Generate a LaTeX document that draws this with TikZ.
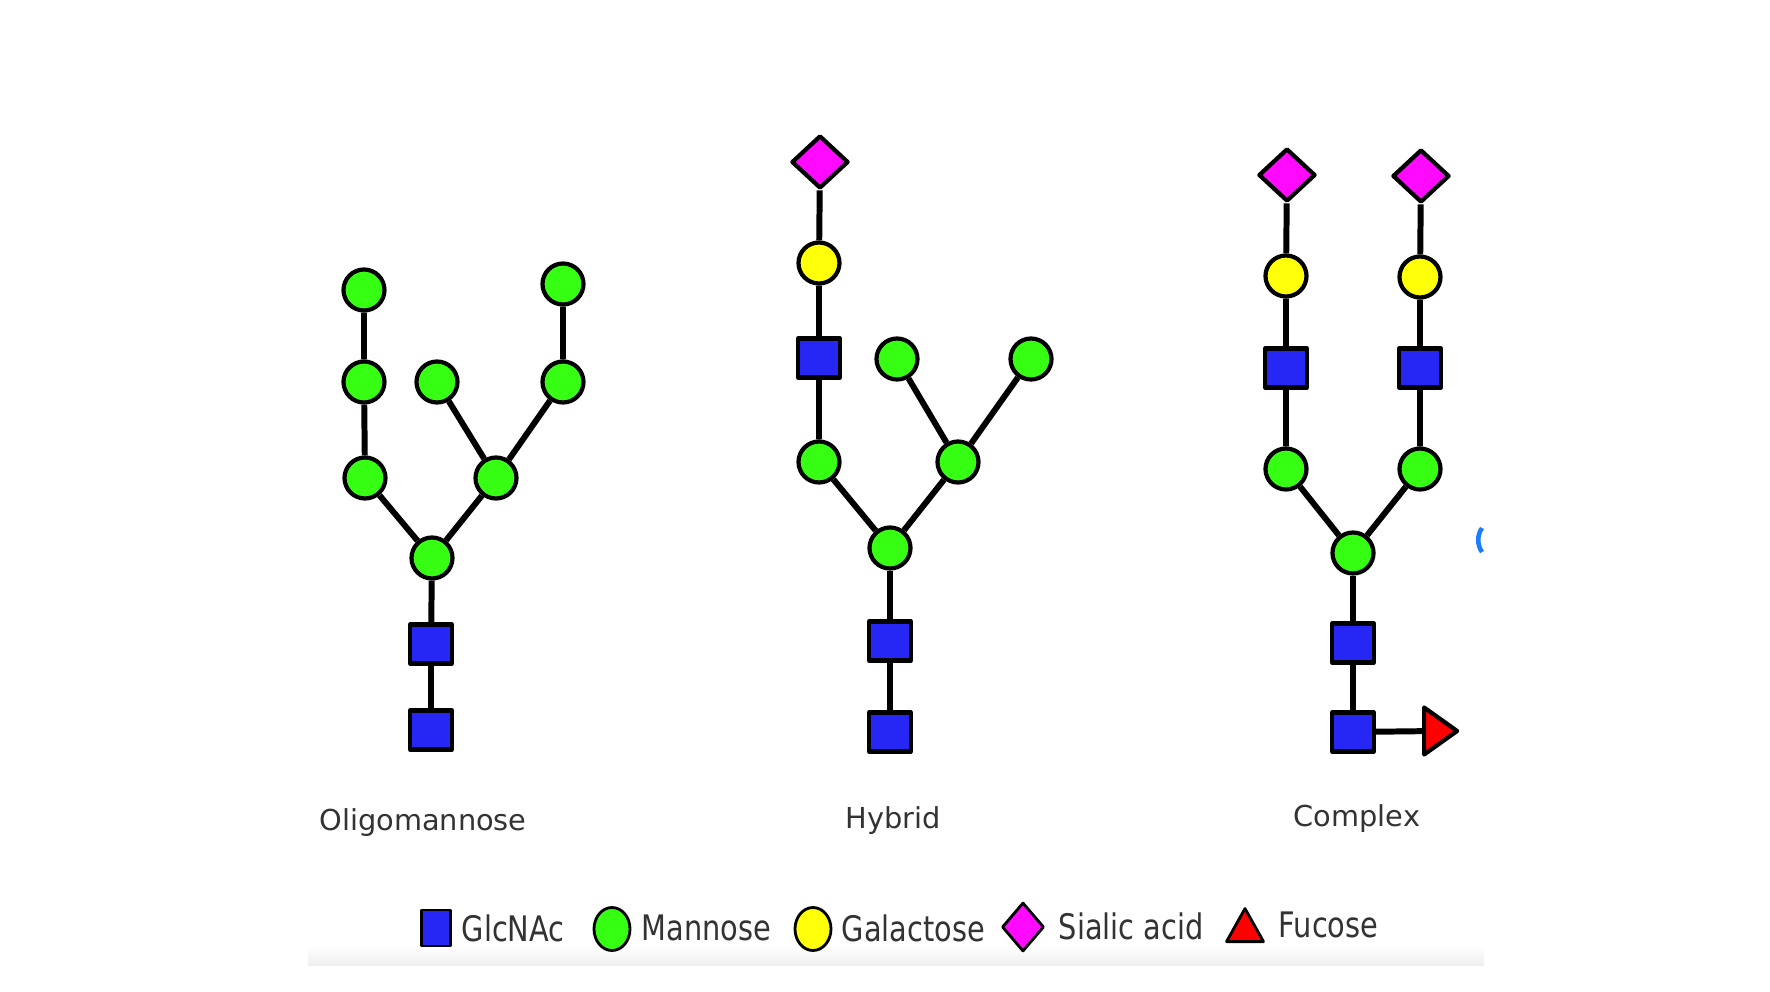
\documentclass[tikz,border=0pt]{standalone}
\usepackage{fontspec}
\setmainfont{DejaVu Sans}
\usepackage{graphicx}
\usepackage{tikz}
\usetikzlibrary{shapes.geometric,positioning}
\definecolor{ink}{HTML}{000000}
\definecolor{txt}{HTML}{333333}
\definecolor{glc}{HTML}{2626F5}
\definecolor{man}{HTML}{36FF14}
\definecolor{gal}{HTML}{FFFF0A}
\definecolor{sia}{HTML}{FF0AFF}
\definecolor{fuc}{HTML}{FF0000}
\definecolor{band}{HTML}{EFEFEF}
\definecolor{speck}{HTML}{1A7DFF}
\newcommand\vstretch[1]{\scalebox{1}[1.22]{#1}}
\tikzset{
  link/.style={draw=ink, line width=1.7pt},
  sugar/.style={draw=ink, line width=1.2pt, line join=round, inner sep=0pt},
  glcnac/.style={sugar, fill=glc, rectangle, minimum width=4.2mm, minimum height=3.9mm},
  mannose/.style={sugar, fill=man, circle, minimum size=4.1mm},
  galac/.style={mannose, fill=gal},
  sialic/.style={sugar, fill=sia, diamond, minimum width=5.7mm, minimum height=5.3mm},
  fucose/.style={sugar, fill=fuc, isosceles triangle, isosceles triangle stretches, minimum width=4.7mm, minimum height=3.3mm},
  lab/.style={text=txt, font=\fontsize{8.2pt}{10pt}\selectfont},
  key/.style={lab, inner sep=0pt, anchor=west},
  kglc/.style={glcnac, line width=.8pt, minimum width=2.9mm, minimum height=3.6mm},
  kman/.style={sugar, line width=.8pt, fill=man, ellipse, minimum width=3.6mm, minimum height=4.3mm},
  kgal/.style={kman, fill=gal},
  ksia/.style={sialic, line width=.8pt, minimum width=4.2mm, minimum height=4.9mm},
  kfuc/.style={fucose, line width=.8pt, shape border rotate=90, minimum width=3.7mm, minimum height=3.3mm},
}
\begin{document}
\begin{tikzpicture}[x=0.1mm, y=-0.1mm]
  \fill[white] (0,0) rectangle (1770,992);
  \useasboundingbox (0,0) rectangle (1770,992);
  \shade[top color=white, bottom color=band] (308,946) rectangle (1484,965);
  \draw[speck, line width=1.3pt] (1482,528) .. controls (1477,535) and (1477,545) .. (1482,552);

  \node[glcnac] (oG1) at (431,730) {};
  \node[glcnac] (oG2) at (431,644) {};
  \node[mannose] (oM1) at (432,558) {};
  \node[mannose] (oM2) at (365,478) {};
  \node[mannose] (oM3) at (496,478) {};
  \node[mannose] (oM4) at (364,382) {};
  \node[mannose] (oM5) at (364,290) {};
  \node[mannose] (oM6) at (437,382) {};
  \node[mannose] (oM7) at (563,382) {};
  \node[mannose] (oM8) at (563,284) {};
  \draw[link] (oG1)--(oG2)--(oM1);
  \draw[link] (oM2)--(oM1)--(oM3);
  \draw[link] (oM2)--(oM4)--(oM5);
  \draw[link] (oM6)--(oM3)--(oM7)--(oM8);
  \node[lab, anchor=base] (oLab) at (423,830) {Oligomannose};

  \node[glcnac] (hG1) at (890,732) {};
  \node[glcnac] (hG2) at (890,641) {};
  \node[mannose] (hM1) at (890,548) {};
  \node[mannose] (hM2) at (819,462) {};
  \node[mannose] (hM3) at (958,462) {};
  \node[mannose] (hM4) at (897,359) {};
  \node[mannose] (hM5) at (1031,359) {};
  \node[glcnac] (hG3) at (819,358) {};
  \node[galac] (hGal) at (819,263) {};
  \node[sialic] (hSia) at (820,162) {};
  \draw[link] (hG1)--(hG2)--(hM1);
  \draw[link] (hM2)--(hM1)--(hM3);
  \draw[link] (hM4)--(hM3)--(hM5);
  \draw[link] (hM2)--(hG3)--(hGal)--(hSia);
  \node[lab, anchor=base] (hLab) at (893,828) {Hybrid};

  \node[glcnac] (cG1) at (1353,732) {};
  \node[glcnac] (cG2) at (1353,643) {};
  \node[mannose] (cM1) at (1353,553) {};
  \node[mannose] (cM2) at (1286,469) {};
  \node[mannose] (cM3) at (1420,469) {};
  \node[glcnac] (cG3) at (1286,368) {};
  \node[glcnac] (cG4) at (1420,368) {};
  \node[galac] (cGal1) at (1286,276) {};
  \node[galac] (cGal2) at (1420,277) {};
  \node[sialic] (cSia1) at (1287,175) {};
  \node[sialic] (cSia2) at (1421,176) {};
  \node[fucose, anchor=west] (cFuc) at (1422,731) {};
  \draw[link] (cG1)--(cG2)--(cM1);
  \draw[link] (cM2)--(cM1)--(cM3);
  \draw[link] (cM2)--(cG3)--(cGal1)--(cSia1);
  \draw[link] (cM3)--(cG4)--(cGal2)--(cSia2);
  \draw[link] (cG1)--(cFuc);
  \node[lab, anchor=base] (cLab) at (1357,826) {Complex};

  \node[kglc] (kG) at (436,928) {};
  \node[key] (tG) at (461,928) {\vstretch{GlcNAc}};
  \node[kman] (kM) at (612,929) {};
  \node[key] (tM) at (641,928) {\vstretch{Mannose}};
  \node[kgal] (kL) at (813,929) {};
  \node[key] (tL) at (841,928) {\vstretch{Galactose}};
  \node[ksia] (kS) at (1023,927) {};
  \node[key] (tS) at (1058,926) {\vstretch{Sialic acid}};
  \node[kfuc, anchor=south] (kF) at (1245,943) {};
  \node[key] (tF) at (1278,925) {\vstretch{Fucose}};
\end{tikzpicture}
\end{document}
